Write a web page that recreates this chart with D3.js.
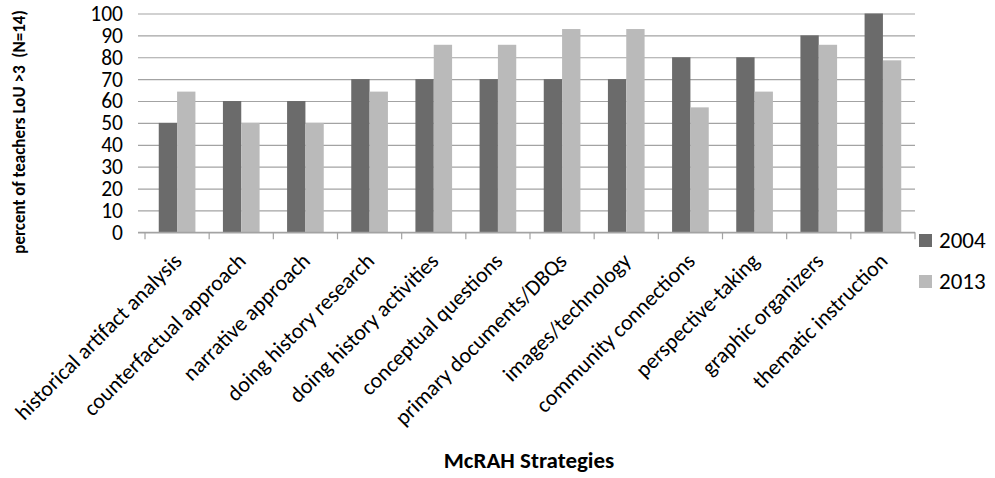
<!DOCTYPE html>
<html>
<head>
<meta charset="utf-8">
<script src="https://cdn.jsdelivr.net/npm/d3@7"></script>
<style>
  html, body { margin: 0; padding: 0; background: #fff; }
  svg { display: block; font-family: Carlito, Lato, "Open Sans", sans-serif; }
</style>
</head>
<body>
<svg id="chart" width="995" height="478"></svg>
<script>
// McRAH strategies: share of teachers at LoU > 3
const categories = [
  "historical artifact analysis",
  "counterfactual approach",
  "narrative approach",
  "doing history research",
  "doing history activities",
  "conceptual questions",
  "primary documents/DBQs",
  "images/technology",
  "community connections",
  "perspective-taking",
  "graphic organizers",
  "thematic instruction"
];
const seriesNames = ["2004", "2013"];
const values2004 = [50, 60, 60, 70, 70, 70, 70, 70, 80, 80, 90, 100];
const values2013 = [64.3, 50, 50, 64.3, 85.7, 85.7, 92.9, 92.9, 57.1, 64.3, 85.7, 78.6];
const yTicks = [0, 10, 20, 30, 40, 50, 60, 70, 80, 90, 100];

const colors = { "2004": "#6b6b6b", "2013": "#bababa" };
const gridColor = "#a3a3a3";

const svg = d3.select("#chart");
const plot = { left: 145, right: 915, top: 13.5, bottom: 232.3 };

const x = d3.scaleBand().domain(categories).range([plot.left, plot.right]).padding(0);
const barW = x.bandwidth() / 3.5;
const xInner = d3.scaleBand().domain(seriesNames)
  .range([x.bandwidth() / 2 - barW, x.bandwidth() / 2 + barW]).padding(0);
const y = d3.scaleLinear().domain([0, 100]).range([plot.bottom, plot.top]);

// horizontal gridlines with short outside ticks
const yAxis = d3.axisLeft(y).tickValues(yTicks)
  .tickSize(-(plot.right - plot.left)).tickSizeOuter(0).tickPadding(22);
const gy = svg.append("g").attr("transform", `translate(${plot.left},0)`).call(yAxis);
gy.select(".domain").remove();
gy.selectAll(".tick line").attr("x1", -7).attr("stroke", gridColor).attr("stroke-width", 1.2);
gy.selectAll(".tick text").attr("fill", "#000").style("font-size", "21.5px")
  .style("font-family", "Carlito, Lato, sans-serif");

// bars
const rows = categories.map((c, i) => ({ cat: c, vals: [
  { key: "2004", v: values2004[i] }, { key: "2013", v: values2013[i] } ] }));
const groups = svg.append("g").selectAll("g").data(rows).join("g")
  .attr("transform", d => `translate(${x(d.cat)},0)`);
groups.selectAll("rect").data(d => d.vals).join("rect")
  .attr("x", d => xInner(d.key))
  .attr("width", xInner.bandwidth())
  .attr("y", d => y(d.v))
  .attr("height", d => y(0) - y(d.v))
  .attr("fill", d => colors[d.key]);

// category axis: baseline and boundary ticks
const boundaries = categories.map(c => x(c)).concat([plot.right]);
svg.append("line").attr("x1", plot.left - 7).attr("x2", plot.right)
  .attr("y1", y(0)).attr("y2", y(0)).attr("stroke", gridColor).attr("stroke-width", 1.2);
svg.append("g").selectAll("line").data(boundaries).join("line")
  .attr("x1", d => d).attr("x2", d => d)
  .attr("y1", y(0)).attr("y2", y(0) + 7)
  .attr("stroke", gridColor).attr("stroke-width", 1.2);

// rotated category labels
svg.append("g").selectAll("text").data(categories).join("text")
  .attr("transform", d => `translate(${x(d) + x.bandwidth() / 2 + 6},${y(0) + 30}) rotate(-45)`)
  .attr("text-anchor", "end")
  .style("font-size", "22px")
  .attr("fill", "#000")
  .text(d => d);

// axis titles
svg.append("text")
  .attr("transform", `translate(25,132) rotate(-90)`)
  .attr("text-anchor", "middle")
  .style("font-size", "17px").style("font-weight", "bold")
  .attr("fill", "#000")
  .attr("xml:space", "preserve")
  .text("percent of teachers LoU >3  (N=14)");

svg.append("text")
  .attr("x", 529).attr("y", 468)
  .attr("text-anchor", "middle")
  .style("font-size", "23px").style("font-weight", "bold")
  .attr("fill", "#000")
  .text("McRAH Strategies");

// legend
const legend = svg.append("g").selectAll("g").data(seriesNames).join("g")
  .attr("transform", (d, i) => `translate(919,${234 + i * 41})`);
legend.append("rect").attr("width", 13).attr("height", 13).attr("fill", d => colors[d]);
legend.append("text").attr("x", 20).attr("y", 13.5)
  .style("font-size", "23px").attr("fill", "#000").text(d => d);
</script>
</body>
</html>
